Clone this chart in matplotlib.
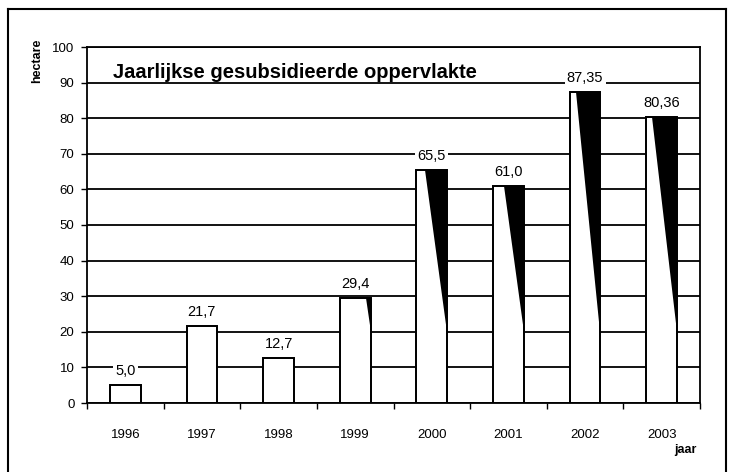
import matplotlib
matplotlib.use("Agg")
import matplotlib.pyplot as plt
from matplotlib.patches import Polygon
from matplotlib.lines import Line2D

plt.rcParams['font.family'] = ['Liberation Sans', 'DejaVu Sans']

years = ["1996", "1997", "1998", "1999", "2000", "2001", "2002", "2003"]
values = [5.0, 21.7, 12.7, 29.4, 65.5, 61.0, 87.35, 80.36]
value_labels = ["5,0", "21,7", "12,7", "29,4", "65,5", "61,0", "87,35", "80,36"]
title = "Jaarlijkse gesubsidieerde oppervlakte"
ylabel = "hectare"
xlabel = "jaar"

W, H = 733, 472
fig = plt.figure(figsize=(W / 100, H / 100), dpi=100)
ax = fig.add_axes([87 / W, 1 - 403 / H, 613 / W, 356 / H])

bar_w = 0.4
x = list(range(len(values)))
ax.set_xlim(-0.5, len(values) - 0.5)
ax.set_ylim(0, 100)

# gridlines
ax.set_yticks(range(0, 101, 10))
ax.yaxis.grid(True, color='black', linewidth=1.3, zorder=0)
ax.set_axisbelow(True)

ax.bar(x, values, width=bar_w, color='white', edgecolor='black',
       linewidth=1.3, zorder=2)

# dark shading (scanned gradient) on the right part of tall bars
base = 20.0
for xi, v in zip(x, values):
    if v <= base:
        continue
    frac = min(1.0, (v - base) / 50.0)
    b = 1 - 0.8 * frac
    xl = xi - bar_w / 2
    xr = xi + bar_w / 2
    poly = Polygon([(xl + b * bar_w, v), (xr, v), (xr, base)], closed=True,
                   facecolor='black', edgecolor='none', zorder=3)
    ax.add_patch(poly)
# redraw outlines on top
ax.bar(x, values, width=bar_w, color='none', edgecolor='black',
       linewidth=1.3, zorder=4)

for xi, v, lab in zip(x, values, value_labels):
    ax.annotate(lab, (xi, v), xytext=(0, 10), textcoords='offset points',
                ha='center', va='center', fontsize=10.5, zorder=5,
                bbox=dict(boxstyle='square,pad=0.15', fc='white', ec='none'))

ax.set_xticks(x)
ax.set_xticklabels(years, fontsize=9.5)
ax.set_xticks([i + 0.5 for i in range(-1, len(values))], minor=True)
ax.tick_params(axis='x', which='major', length=0, pad=19)
ax.tick_params(axis='x', which='minor', length=4, width=1, direction='out')
ax.tick_params(axis='y', length=4, width=1, pad=5, labelsize=9.5)

for s in ax.spines.values():
    s.set_linewidth(1.3)
    s.set_color('black')

ax.text(113 / W - 87 / W, 0, "", transform=ax.transAxes)
fig.text(113 / W, 1 - 73 / H, title, fontsize=14.5,
         fontweight='bold', ha='left', va='center')

fig.text(37 / W, 1 - 61 / H, ylabel, rotation=90, fontsize=9,
         fontweight='bold', ha='center', va='center')
fig.text(685 / W, 1 - 450 / H, xlabel, fontsize=9, fontweight='bold',
         ha='center', va='center')

# outer frame
lw = 1.5
fig.add_artist(Line2D([8 / W, 8 / W], [0, 1 - 9 / H], transform=fig.transFigure,
                      color='black', linewidth=lw))
fig.add_artist(Line2D([8 / W, 726 / W], [1 - 9 / H, 1 - 9 / H],
                      transform=fig.transFigure, color='black', linewidth=lw))
fig.add_artist(Line2D([726 / W, 726 / W], [0, 1 - 9 / H], transform=fig.transFigure,
                      color='black', linewidth=lw))

fig.savefig("out.png", dpi=100, facecolor='white')
